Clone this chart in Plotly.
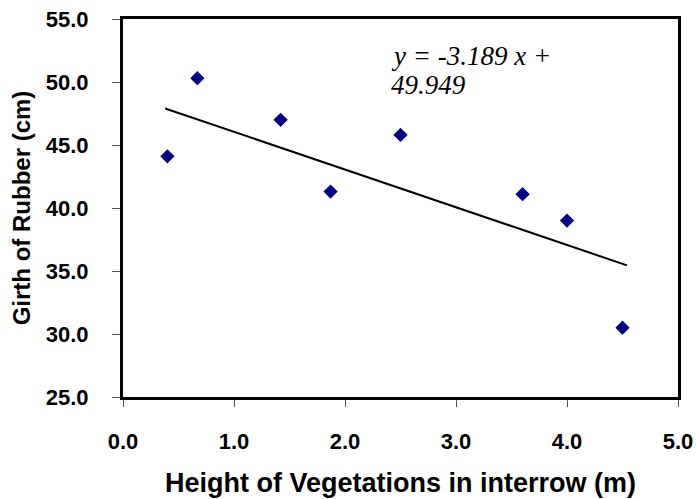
import plotly.graph_objects as go

height_m = [0.40, 0.67, 1.42, 1.87, 2.50, 3.60, 4.00, 4.50]
girth_cm = [44.1, 50.3, 47.0, 41.3, 45.8, 41.1, 39.0, 30.5]
trend_x = [0.38, 4.54]
trend_y = [47.9, 35.45]
x_ticks = [0, 1, 2, 3, 4, 5]
y_ticks = [25, 30, 35, 40, 45, 50, 55]
equation_lines = ["y = -3.189 x +", "49.949"]

fig = go.Figure()
fig.add_trace(go.Scatter(x=trend_x, y=trend_y, mode="lines",
                         line=dict(color="black", width=2), showlegend=False))
fig.add_trace(go.Scatter(x=height_m, y=girth_cm, mode="markers",
                         marker=dict(symbol="diamond", color="#000080", size=11),
                         showlegend=False))

sans = "Liberation Sans, Arial"
tick_font = dict(family=sans, size=22, color="black")
title_font_x = dict(family=sans, size=27, color="black")
title_font_y = dict(family=sans, size=24, color="black")

fig.update_layout(
    width=696, height=499,
    margin=dict(l=123, r=18, t=19, b=102, autoexpand=False),
    paper_bgcolor="white", plot_bgcolor="white",
    xaxis=dict(range=[0, 5], tickvals=x_ticks, ticktext=[f"<b>{v:.1f}</b>" for v in x_ticks],
               showgrid=False, zeroline=False, showline=True, linecolor="black", linewidth=3,
               mirror=True, ticks="outside", ticklen=7, tickcolor="#555", tickwidth=1,
               tickfont=tick_font, ticklabelstandoff=16, ticklabeloverflow="allow",
               title=dict(text="<b>Height of Vegetations in interrow (m)</b>",
                          font=title_font_x, standoff=20)),
    yaxis=dict(range=[25, 55], tickvals=y_ticks, ticktext=[f"<b>{v:.1f}</b>" for v in y_ticks],
               showgrid=False, zeroline=False, showline=True, linecolor="black", linewidth=3,
               mirror=True, ticks="outside", ticklen=8, tickcolor="#555", tickwidth=1,
               tickfont=tick_font, ticklabelstandoff=19, ticklabeloverflow="allow",
               title=dict(text="<b>Girth of Rubber (cm)</b>",
                          font=title_font_y, standoff=9)),
)
eq_font = dict(family="Liberation Serif, Times New Roman", size=27, color="black")
for line, ypos in zip(equation_lines, [52.1, 49.75]):
    fig.add_annotation(x=2.40, y=ypos, xref="x", yref="y", text=f"<i>{line}</i>",
                       showarrow=False, xanchor="left", yanchor="middle", font=eq_font)
fig.write_html("out.html", config={"displayModeBar": False},
               post_script="document.body.style.margin='0';document.body.style.overflow='hidden';")
